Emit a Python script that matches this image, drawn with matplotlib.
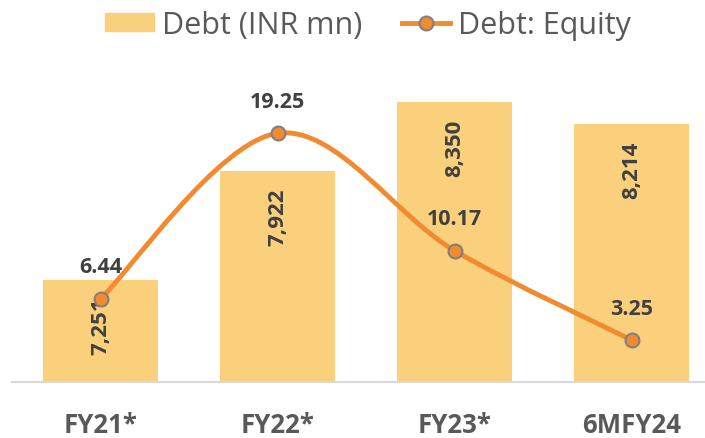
import numpy as np
import matplotlib
matplotlib.use("Agg")
import matplotlib.pyplot as plt
from matplotlib.path import Path
from matplotlib.patches import PathPatch, Patch
from matplotlib.lines import Line2D

categories = ["FY21*", "FY22*", "FY23*", "6MFY24"]
debt = [7251, 7922, 8350, 8214]
debt_equity = [6.44, 19.25, 10.17, 3.25]
debt_labels = ["7,251", "7,922", "8,350", "8,214"]
eq_labels = ["6.44", "19.25", "10.17", "3.25"]

BAR = "#FAD07D"
LINE = "#F28A30"
EDGE = "#808080"
DARK = "#404040"
GREY = "#595959"

plt.rcParams['font.family'] = ['Open Sans', 'DejaVu Sans']

W, H = 705, 439
fig = plt.figure(figsize=(W / 100, H / 100), dpi=100)
ax = fig.add_axes([12 / W, 56 / H, 708 / W, 323 / H])
ax2 = ax.twinx()

x = np.arange(len(categories))
ax.bar(x, debt, width=0.65, color=BAR, zorder=1)
ax.set_ylim(6621, 8615)
ax.set_xlim(-0.5, 3.5)
ax2.set_ylim(0, 25)

for xi, v, lab in zip(x, debt, debt_labels):
    ax.annotate(lab, (xi, v), xytext=(0, -45), textcoords="offset pixels",
                rotation=90, ha="center", va="center", fontsize=16,
                fontweight="bold", color=DARK)

# smoothed line (Excel-like bezier through the points)
pts = np.column_stack([x, debt_equity]).astype(float)
ext = np.vstack([pts[0], pts, pts[-1]])
verts = [tuple(pts[0])]
codes = [Path.MOVETO]
for i in range(len(pts) - 1):
    p0, p1, p2, p3 = ext[i], ext[i + 1], ext[i + 2], ext[i + 3]
    c1 = p1 + (p2 - p0) / 6
    c2 = p2 - (p3 - p1) / 6
    verts += [tuple(c1), tuple(c2), tuple(p2)]
    codes += [Path.CURVE4] * 3
ax2.add_patch(PathPatch(Path(verts, codes), fill=False, edgecolor=LINE,
                        lw=3.5, capstyle="round", zorder=3))
ax2.plot(x, debt_equity, ls="none", marker="o", ms=10, mfc=LINE,
         mec=EDGE, mew=1.5, zorder=4)
for xi, v, lab in zip(x, debt_equity, eq_labels):
    ax2.annotate(lab, (xi, v), xytext=(0, 32), textcoords="offset pixels",
                 ha="center", va="center", fontsize=15.5, fontweight="bold",
                 color=DARK)

for a in (ax, ax2):
    for s in a.spines.values():
        s.set_visible(False)
    a.set_yticks([])
ax.spines["bottom"].set_visible(True)
ax.spines["bottom"].set_color("#D9D9D9")
ax.spines["bottom"].set_linewidth(1.5)
ax.set_xticks(x)
ax.set_xticklabels(categories, fontsize=18.5, fontweight="bold", color=GREY)
ax.tick_params(axis="x", length=0, pad=21)

handles = [Patch(color=BAR, label="Debt (INR mn)"),
           Line2D([0], [0], color=LINE, lw=3.5, marker="o", ms=10, mfc=LINE,
                  mec=EDGE, mew=1.5, label="Debt: Equity")]
fig.legend(handles=handles, loc="center", bbox_to_anchor=(368 / W, 1 - 26 / H),
           ncol=2, frameon=False, fontsize=22, labelcolor=GREY,
           handlelength=1.6, handleheight=0.5, handletextpad=0.25,
           columnspacing=1.3)

fig.savefig("out.png", dpi=100)
